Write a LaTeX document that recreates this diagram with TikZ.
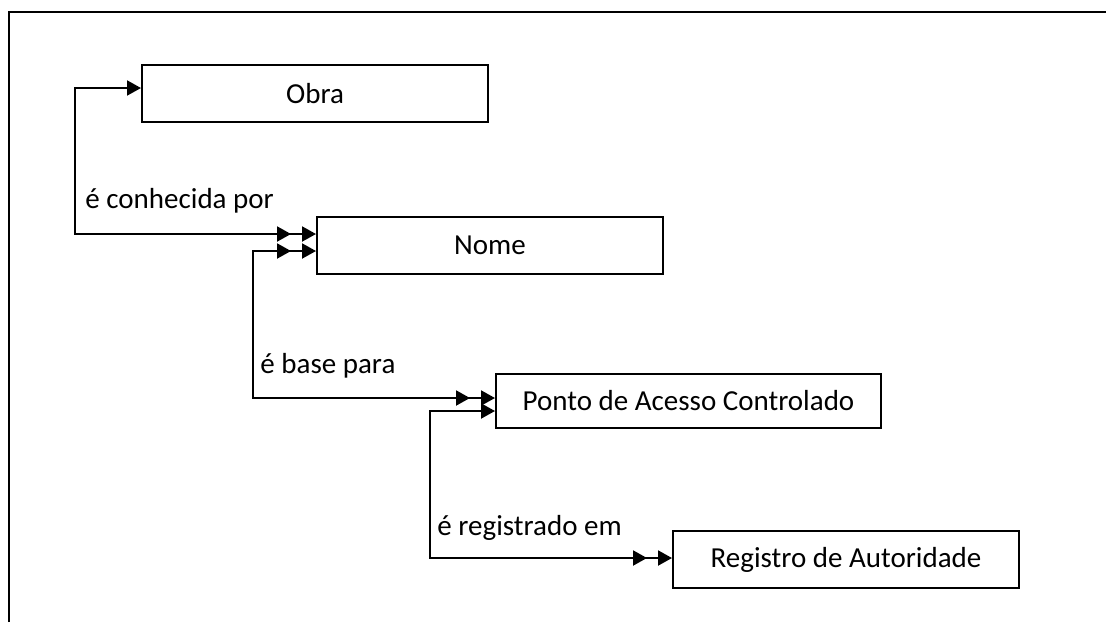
\documentclass[tikz,border=0pt]{standalone}
\usepackage{fontspec}
\setmainfont{Carlito}
\usetikzlibrary{arrows.meta}

\tikzset{
  entidade/.style={draw, line width=1pt, minimum width=173pt, minimum height=28.5pt, inner sep=0pt, font=\fontsize{14.5}{17}\selectfont},
  rotulo/.style={anchor=base west, inner sep=0pt, font=\fontsize{14.5}{17}\selectfont},
  liga/.style={line width=1pt},
  um/.tip={Triangle[length=7pt,width=7.5pt]},
  dois/.tip={Triangle[length=7pt,width=7.5pt,sep=5.5pt]Triangle[length=7pt,width=7.5pt]}
}

\begin{document}
\begin{tikzpicture}[x=0.5pt,y=-0.5pt]
    \useasboundingbox (0,0) rectangle (1106,622);
    % moldura
    \draw[line width=1pt] (9,622) -- (9,12) -- (1106,12);
    % entidades
    \node[entidade] (obra) at (315,93.5) {Obra};
    \node[entidade] (nome) at (490,245.5) {Nome};
    \node[entidade, minimum width=192.5pt, minimum height=27pt] (ponto) at (688.5,401) {Ponto de Acesso Controlado};
    \node[entidade] (registro) at (846,559.5) {Registro de Autoridade};
    % cantos
    \coordinate (k1) at (75,234);
    \coordinate (k2) at (253,398);
    \coordinate (k3) at (430,558);
    % relacoes
    \draw[liga, {um}-{dois}] ([yshift=2.75pt]obra.west) -| (k1) -- ([yshift=5.75pt]nome.west);
    \draw[liga, {dois}-{dois}] ([yshift=-2.75pt]nome.west) -| (k2) -- ([yshift=1.5pt]ponto.west);
    \draw[liga, {um}-{dois}] ([yshift=-5pt]ponto.west) -| (k3) -- ([yshift=0.75pt]registro.west);
    \node[rotulo] (r1) at (85,208) {é conhecida por};
    \node[rotulo] (r2) at (260,373) {é base para};
    \node[rotulo] (r3) at (437,535) {é registrado em};
\end{tikzpicture}
\end{document}
